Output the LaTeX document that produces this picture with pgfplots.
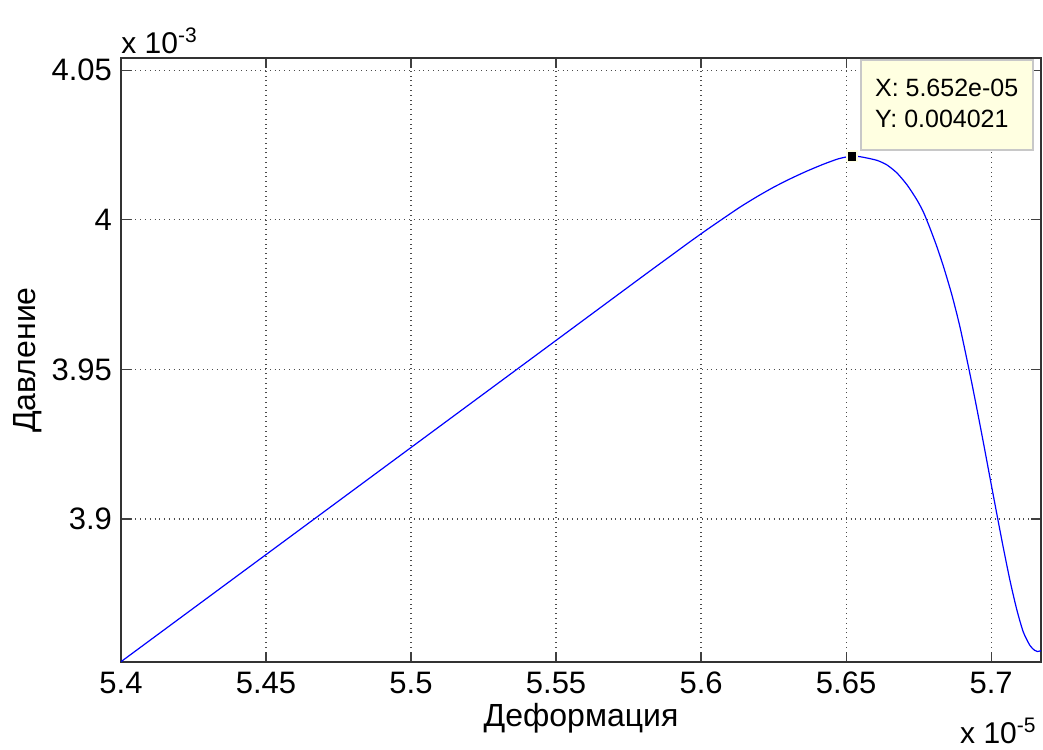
\documentclass[border=0pt]{standalone}
\usepackage{pgfplots}
\pgfplotsset{compat=1.18}
\usepackage{fontspec}
\setmainfont{Liberation Sans}
\definecolor{tipfill}{HTML}{FFFFE1}
\definecolor{tipedge}{HTML}{C8C8C8}
\begin{document}
\begin{tikzpicture}
\useasboundingbox (-60.5pt,-43.5pt) rectangle (461pt,331pt);
\begin{axis}[
  at={(0,0)}, anchor=south west,
  scale only axis, width=460pt, height=302pt,
  xmin=5.4, xmax=5.7172, ymin=3.8522, ymax=4.0541,
  xtick={5.4,5.45,5.5,5.55,5.6,5.65,5.7},
  xticklabels={5.4,5.45,5.5,5.55,5.6,5.65,5.7},
  ytick={3.9,3.95,4,4.05},
  yticklabels={3.9,3.95,4,4.05},
  tick align=inside, tick pos=both,
  major tick length=5pt,
  every tick/.style={black!75, line width=0.6pt},
  axis line style={black!80, line width=0.6pt},
  grid=major,
  grid style={dotted, black!70, line width=0.6pt},
  tick label style={font=\fontsize{15.5}{18}\selectfont},
  xticklabel style={yshift=-1.5pt},
  yticklabel style={xshift=-1pt},
  label style={font=\fontsize{16}{19}\selectfont},
  xlabel={Деформация},
  ylabel={Давление},
  xlabel style={at={(axis description cs:0.5,-0.0927)}, anchor=center},
  ylabel style={at={(axis description cs:-0.101,0.5)}, anchor=center},
  clip=true,
]
\addplot[blue, line width=0.6pt, smooth, tension=0.4] coordinates {
(5.4000,3.8523)
(5.4500,3.8881)
(5.5000,3.9239)
(5.5500,3.9597)
(5.5800,3.9812)
(5.5900,3.9883)
(5.5962,3.9927)
(5.6020,3.9967)
(5.6077,4.0005)
(5.6135,4.0043)
(5.6192,4.0077)
(5.6250,4.0109)
(5.6307,4.0137)
(5.6365,4.0163)
(5.6422,4.0186)
(5.6470,4.0203)
(5.6500,4.0210)
(5.6520,4.0212)
(5.6540,4.0212)
(5.6560,4.0209)
(5.6606,4.0199)
(5.6640,4.0184)
(5.6675,4.0157)
(5.6710,4.0117)
(5.6744,4.0067)
(5.6767,4.0025)
(5.6790,3.9970)
(5.6813,3.9910)
(5.6836,3.9843)
(5.6865,3.9748)
(5.6893,3.9640)
(5.6928,3.9480)
(5.6951,3.9368)
(5.6973,3.9257)
(5.6997,3.9133)
(5.7020,3.9015)
(5.7042,3.8904)
(5.7066,3.8790)
(5.7089,3.8695)
(5.7111,3.8622)
(5.7134,3.8577)
(5.7150,3.8561)
(5.7160,3.8557)
(5.7172,3.8560)
};
\addplot[only marks, mark=square*, mark size=2.6pt, mark options={fill=black, draw=tipfill, line width=0.8pt}] coordinates {(5.652,4.0213)};
\node[anchor=north west, draw=tipedge, line width=1pt, fill=tipfill, minimum width=86pt, minimum height=45pt, inner sep=0pt] (tip) at (axis cs:5.6548,4.0538) {};
\node[anchor=west, font=\fontsize{12.5}{14}\selectfont] at ([xshift=4pt,yshift=8.5pt]tip.west) {X: 5.652e-05};
\node[anchor=west, font=\fontsize{12.5}{14}\selectfont] at ([xshift=4pt,yshift=-7pt]tip.west) {Y: 0.004021};
\end{axis}
\node[anchor=south west, inner sep=0pt, font=\fontsize{15}{17}\selectfont] at (0pt,304pt) {x 10\textsuperscript{-3}};
\node[anchor=south east, inner sep=0pt, font=\fontsize{15}{17}\selectfont] at (458pt,-41pt) {x 10\textsuperscript{-5}};
\end{tikzpicture}
\end{document}
